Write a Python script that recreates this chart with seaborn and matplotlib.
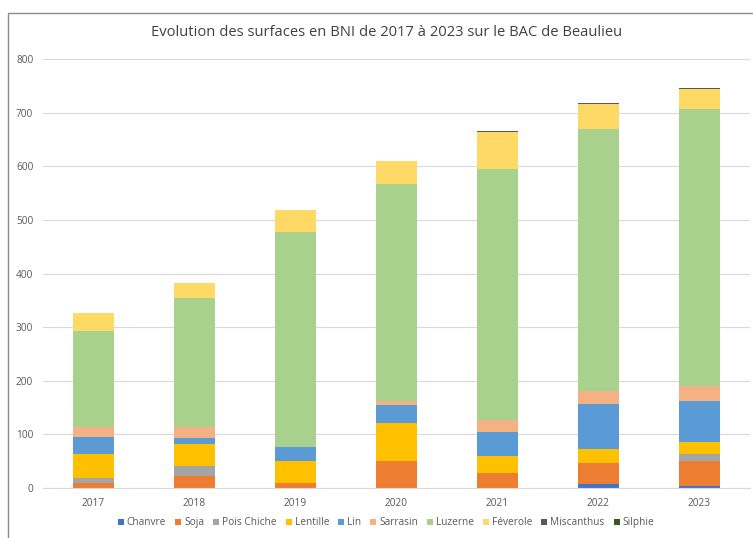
import numpy as np
import pandas as pd
import seaborn as sns
import matplotlib
matplotlib.use("Agg")
import matplotlib.pyplot as plt
from matplotlib.patches import Rectangle

years = ["2017", "2018", "2019", "2020", "2021", "2022", "2023"]
chanvre = [0, 0, 0, 0, 0, 7.5, 3.5]
soja = [10, 23, 10, 51, 28.5, 38.5, 46]
pois_chiche = [8, 18, 0, 0, 0, 0, 13.5]
lentille = [46, 41, 41, 70, 31, 26, 22]
lin = [32, 11, 26, 34, 45, 85, 77]
sarrasin = [18, 21, 0, 8, 23, 23, 28.5]
luzerne = [179, 240, 400, 404, 467, 489, 516]
feverole = [33, 29, 41, 43, 69, 47, 38]
miscanthus = [0, 0, 0, 0, 1.5, 1.5, 1.5]
silphie = [0, 0, 0, 0, 0, 0, 0.5]

names = ["Chanvre", "Soja", "Pois Chiche", "Lentille", "Lin", "Sarrasin",
         "Luzerne", "Féverole", "Miscanthus", "Silphie"]
series = [chanvre, soja, pois_chiche, lentille, lin, sarrasin,
          luzerne, feverole, miscanthus, silphie]
colors = ["#4472C4", "#ED7D31", "#A5A5A5", "#FFC000", "#5B9BD5", "#F4B183",
          "#A9D18E", "#FFD966", "#595959", "#375623"]

df = pd.DataFrame(dict(zip(names, series)), index=years)
cum = df.cumsum(axis=1)

sns.set_style("white")
plt.rcParams["font.family"] = ["Open Sans", "DejaVu Sans"]

W, H = 753, 538
fig = plt.figure(figsize=(W / 100, H / 100), dpi=100)
ax = fig.add_axes([43 / W, 50 / H, 707 / W, 429 / H])

# stacked bars: draw cumulative totals from the top series down
for name, col in zip(names[::-1], colors[::-1]):
    sns.barplot(x=years, y=cum[name].values, color=col, width=0.4,
                linewidth=0, saturation=1, ax=ax)

ax.set_ylim(0, 800)
ax.set_xlim(-0.5, 6.5)
ax.set_yticks(range(0, 801, 100))
ax.yaxis.grid(True, color="#D9D9D9", linewidth=0.8)
ax.set_axisbelow(True)
for s in ["top", "right", "left"]:
    ax.spines[s].set_visible(False)
ax.spines["bottom"].set_color("#D9D9D9")
ax.spines["bottom"].set_linewidth(0.8)
ax.tick_params(axis="both", length=0, labelsize=7.3, labelcolor="#595959")
ax.tick_params(axis="y", pad=7)
ax.tick_params(axis="x", pad=7)
ax.set_xlabel("")
ax.set_ylabel("")

fig.text(0.514, 1 - 33 / H, "Evolution des surfaces en BNI de 2017 à 2023 sur le BAC de Beaulieu",
         ha="center", va="center", fontsize=10.6, color="#404040")

# legend laid out by hand in one row, so all labels share a baseline
renderer = fig.canvas.get_renderer()
y_base = 1 - 525 / H
sq = 6 / W
gap = 9 / W
items = []
x = 0.0
for name, col in zip(names, colors):
    r = Rectangle((x, y_base), sq, 6 / H, transform=fig.transFigure,
                  facecolor=col, edgecolor="none")
    t = fig.text(x + sq + 3 / W, y_base, name, va="baseline", ha="left",
                 fontsize=7.3, color="#595959")
    fig.patches.append(r)
    items.append((r, t))
    bb = t.get_window_extent(renderer)
    x = bb.x1 / W + gap
total = x - gap
shift = 386 / W - total / 2
for r, t in items:
    r.set_x(r.get_x() + shift)
    tx, ty = t.get_position()
    t.set_position((tx + shift, ty))

frame = Rectangle((8 / W, -0.1), 1.2, 1.1 - 13 / H, transform=fig.transFigure,
                  fill=False, edgecolor="#8C8C8C", linewidth=1.0)
fig.patches.append(frame)

fig.savefig("out.png", dpi=100)
